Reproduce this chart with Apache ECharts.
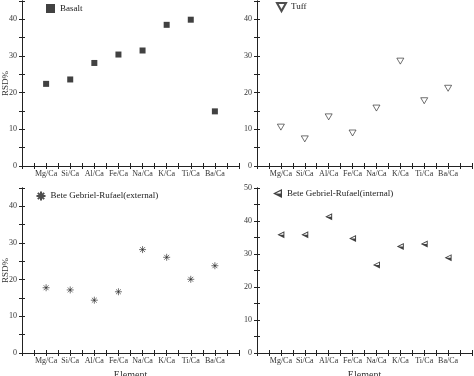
<!DOCTYPE html>
<html><head><meta charset="utf-8">
<script src="https://cdn.jsdelivr.net/npm/echarts@6/dist/echarts.min.js"></script>
<style>html,body{margin:0;padding:0;background:#fff}#c{width:474px;height:376px}</style>
</head><body><div id="c"></div>
<script>
const categories = ['Mg/Ca','Si/Ca','Al/Ca','Fe/Ca','Na/Ca','K/Ca','Ti/Ca','Ba/Ca'];
const basalt   = [22.4, 23.6, 28.1, 30.4, 31.5, 38.5, 39.9, 14.9];
const tuff     = [10.6, 7.4, 13.4, 9.0, 15.8, 28.6, 17.8, 21.2];
const external = [17.8, 17.2, 14.4, 16.7, 28.2, 26.1, 20.1, 23.8];
const internal = [35.8, 35.8, 41.3, 34.7, 26.7, 32.3, 33.0, 28.9];
const yTicks = [0, 10, 20, 30, 40];
const yMax = [45, 45, 45, 50];
const names = ['Basalt', 'Tuff', 'Bete Gebriel-Rufael(external)', 'Bete Gebriel-Rufael(internal)'];

const FONT = '"Liberation Serif", "DejaVu Serif", serif';
const grids = [
  {left: 22, right: 235, top: 1, bottom: 210},
  {left: 257, right: 2, top: 1, bottom: 210},
  {left: 22, right: 235, top: 188, bottom: 23},
  {left: 257, right: 2, top: 188, bottom: 23}
].map(g => Object.assign(g, {outerBoundsMode: 'none', containLabel: false}));
const tickStyle = {show: true, inside: true, length: 3, lineStyle: {color: '#222', width: 1}};
const minorStyle = {show: true, splitNumber: 2, length: 3, lineStyle: {color: '#222', width: 1}};
const lineStyle = {show: true, lineStyle: {color: '#222', width: 1}};
const xAxis = [], yAxis = [];
grids.forEach((g, i) => {
  xAxis.push({
    gridIndex: i, type: 'value', min: 0, max: 9, interval: 1, position: 'bottom',
    axisLine: lineStyle, axisTick: tickStyle, minorTick: minorStyle, splitLine: {show: false},
    axisLabel: {fontFamily: FONT, fontSize: 8, color: '#333', margin: 4,
      formatter: v => (v >= 1 && v <= 8 && Number.isInteger(v)) ? categories[v - 1] : ''},
    name: i >= 2 ? 'Element' : '', nameLocation: 'middle', nameGap: 17, nameMoveOverlap: false,
    nameTextStyle: {fontFamily: FONT, fontSize: 10, color: '#333'}
  });
  xAxis.push({
    gridIndex: i, type: 'value', min: 0, max: 9, interval: 1, position: 'top',
    axisLine: lineStyle, axisTick: tickStyle, minorTick: minorStyle, splitLine: {show: false},
    axisLabel: {show: false}
  });
  yAxis.push({
    gridIndex: i, type: 'value', min: 0, max: yMax[i], interval: 10, position: 'left',
    axisLine: lineStyle, axisTick: tickStyle, minorTick: minorStyle, splitLine: {show: false},
    axisLabel: {fontFamily: FONT, fontSize: 8, color: '#333', margin: 5,
      formatter: v => (v % 10 === 0) ? String(v) : ''},
    name: (i % 2 === 0) ? 'RSD%' : '', nameLocation: 'middle', nameGap: 12, nameMoveOverlap: false,
    nameTextStyle: {fontFamily: FONT, fontSize: 9, color: '#333'}
  });
  yAxis.push({
    gridIndex: i, type: 'value', min: 0, max: yMax[i], interval: 10, position: 'right',
    axisLine: lineStyle, axisTick: tickStyle, minorTick: minorStyle, splitLine: {show: false},
    axisLabel: {show: false}
  });
});

const pts = arr => arr.map((v, k) => [k + 1, v]);
const SQUARE = 'rect';
const TRI_DOWN = 'path://M0,0 L10,0 L5,9 Z';
const STAR = 'path://M0,5 L10,5 M5,0 L5,10 M1.5,1.5 L8.5,8.5 M8.5,1.5 L1.5,8.5';
const TRI_LEFT = 'path://M10,0 L10,10 L0,5 Z M8.6,2.1 L2.9,5 L8.6,7.9 Z M2.9,5 L8.6,5 L8.6,7.9 Z';

const series = [
  {name: names[0], type: 'scatter', xAxisIndex: 0, yAxisIndex: 0, data: pts(basalt),
   symbol: SQUARE, symbolSize: 6, itemStyle: {color: '#111'}},
  {name: names[1], type: 'scatter', xAxisIndex: 2, yAxisIndex: 2, data: pts(tuff),
   symbol: TRI_DOWN, symbolSize: [7, 6], itemStyle: {color: '#fff', borderColor: '#222', borderWidth: 0.8}},
  {name: names[2], type: 'scatter', xAxisIndex: 4, yAxisIndex: 4, data: pts(external),
   symbol: STAR, symbolSize: 7, itemStyle: {color: 'none', borderColor: '#222', borderWidth: 0.8}},
  {name: names[3], type: 'scatter', xAxisIndex: 6, yAxisIndex: 6, data: pts(internal),
   symbol: TRI_LEFT, symbolSize: 7, itemStyle: {color: '#111'}}
];

const legPos = [
  {left: 46, top: 4}, {left: 276, top: 2}, {left: 34, top: 189}, {left: 273, top: 189}
];
const legend = names.map((n, i) => ({
  data: [n], left: legPos[i].left, top: legPos[i].top, itemWidth: 9, itemHeight: 9, itemGap: 5,
  selectedMode: false, padding: 0,
  textStyle: {fontFamily: FONT, fontSize: 9, color: '#222'}
}));

const chart = echarts.init(document.getElementById('c'), null, {renderer: 'canvas'});
chart.setOption({
  animation: false, backgroundColor: '#fff',
  grid: grids, xAxis, yAxis, series, legend
});
</script></body></html>
